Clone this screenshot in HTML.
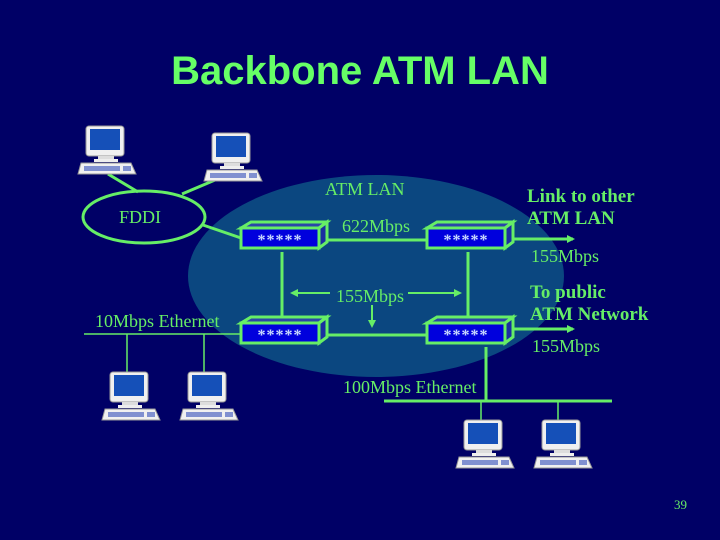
<!DOCTYPE html>
<html><head><style>
body{margin:0;background:#000066;}
svg{display:block;}
</style></head><body>
<svg width="720" height="540" xmlns="http://www.w3.org/2000/svg">
<defs>
<g id="pc">
<rect x="0" y="0" width="38" height="30" rx="3" fill="#f0f0f0" stroke="#999" stroke-width="1"/>
<rect x="4" y="3" width="30" height="21" fill="#1550b8"/>
<rect x="12" y="30" width="16" height="3" fill="#ddd"/>
<rect x="8" y="33" width="24" height="3" fill="#eee"/>
<polygon points="-5,37 45,37 50,48 -8,48" fill="#f0f0f0" stroke="#999" stroke-width="1"/>
<rect x="-2" y="40" width="36" height="5" fill="#8090d0"/>
<rect x="37" y="40" width="8" height="5" fill="#8090d0"/>
</g>
<g id="sw">
<polygon points="0,6 10,0 86,0 78,6" fill="#2a46a8" stroke="#66ee66" stroke-width="3"/>
<polygon points="78,6 86,0 86,20 78,26" fill="#1a2fa0" stroke="#66ee66" stroke-width="3"/>
<rect x="0" y="6" width="78" height="20" fill="#0000dd" stroke="#66ee66" stroke-width="3"/>
<text x="39" y="23" font-family="Liberation Serif,serif" font-weight="bold" font-size="16" fill="#ccddff" text-anchor="middle" letter-spacing="1">*****</text>
</g>
<marker id="ah" markerWidth="8" markerHeight="8" refX="6" refY="4" orient="auto" markerUnits="userSpaceOnUse"><polygon points="0,0 8,4 0,8" fill="#66ee66"/></marker>
</defs>
<text x="360" y="84" font-family="Liberation Sans,sans-serif" font-weight="bold" font-size="40" fill="#66ff66" text-anchor="middle">Backbone ATM LAN</text>
<ellipse cx="376" cy="276" rx="188" ry="101" fill="#0b4780"/>
<g stroke="#66ee66" stroke-width="3" fill="none">
<ellipse cx="144" cy="217" rx="61" ry="26"/>
<line x1="108" y1="174" x2="138" y2="192"/>
<line x1="215" y1="180" x2="182" y2="194"/>
<line x1="203" y1="225" x2="241" y2="238"/>
<line x1="320" y1="240" x2="428" y2="240"/>
<line x1="282" y1="252" x2="282" y2="318"/>
<line x1="468" y1="252" x2="468" y2="318"/>
<line x1="320" y1="335" x2="428" y2="335"/>
<line x1="486" y1="347" x2="486" y2="401"/>
<line x1="384" y1="401" x2="612" y2="401"/>
<line x1="505" y1="239" x2="573" y2="239" marker-end="url(#ah)"/>
<line x1="505" y1="329" x2="573" y2="329" marker-end="url(#ah)"/>
<line x1="330" y1="293" x2="292" y2="293" stroke-width="2" marker-end="url(#ah)"/>
<line x1="408" y1="293" x2="460" y2="293" stroke-width="2" marker-end="url(#ah)"/>
<line x1="372" y1="305" x2="372" y2="326" stroke-width="2" marker-end="url(#ah)"/>
</g>
<g stroke="#66ee66" stroke-width="1.5">
<line x1="84" y1="334" x2="241" y2="334"/>
<line x1="127" y1="334" x2="127" y2="372"/>
<line x1="204" y1="334" x2="204" y2="372"/>
<line x1="481" y1="401" x2="481" y2="420"/>
<line x1="558" y1="401" x2="558" y2="420"/>
</g>
<use href="#sw" x="241" y="222"/>
<use href="#sw" x="427" y="222"/>
<use href="#sw" x="241" y="317"/>
<use href="#sw" x="427" y="317"/>
<use href="#pc" x="86" y="126"/>
<use href="#pc" x="212" y="133"/>
<use href="#pc" x="110" y="372"/>
<use href="#pc" x="188" y="372"/>
<use href="#pc" x="464" y="420"/>
<use href="#pc" x="542" y="420"/>
<g font-family="Liberation Serif,serif" font-size="18" fill="#66ee66">
<text x="119" y="223">FDDI</text>
<text x="325" y="195">ATM LAN</text>
<text x="342" y="232">622Mbps</text>
<text x="336" y="302">155Mbps</text>
<text x="531" y="262">155Mbps</text>
<text x="532" y="352">155Mbps</text>
<text x="95" y="327">10Mbps Ethernet</text>
<text x="343" y="393">100Mbps Ethernet</text>
<text x="527" y="202" font-weight="bold" font-size="19">Link to other</text>
<text x="527" y="224" font-weight="bold" font-size="19">ATM LAN</text>
<text x="530" y="298" font-weight="bold" font-size="19">To public</text>
<text x="530" y="320" font-weight="bold" font-size="19">ATM Network</text>
<text x="674" y="509" font-size="13">39</text>
</g>
</svg>
</body></html>
